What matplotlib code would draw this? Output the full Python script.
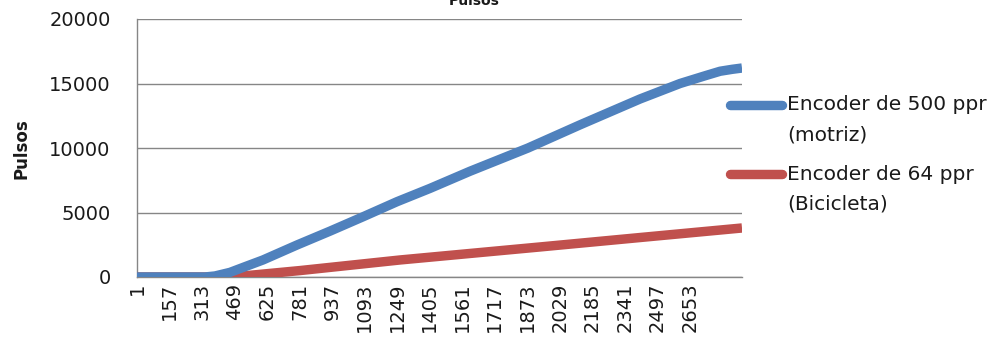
import matplotlib
matplotlib.use("Agg")
import matplotlib.pyplot as plt
from matplotlib.lines import Line2D

# Sample number (x) and accumulated pulses (y) for each encoder
motriz_muestra = [1, 327, 375, 447, 519, 605, 768, 927, 1085, 1248, 1406, 1598,
                  1876, 2126, 2413, 2605, 2725, 2797, 2855, 2902]
motriz_pulsos = [0, 0, 80, 360, 800, 1320, 2480, 3560, 4670, 5840, 6870, 8200,
                 10000, 11800, 13800, 15000, 15600, 15950, 16100, 16200]

bici_muestra = [1, 457, 783, 1262, 1934, 2413, 2902]
bici_pulsos = [0, 0, 500, 1320, 2330, 3060, 3800]

# Category labels shown on the horizontal axis
etiquetas_x = ["1", "157", "313", "469", "625", "781", "937", "1093", "1249",
               "1405", "1561", "1717", "1873", "2029", "2185", "2341", "2497",
               "2653"]
posiciones_x = [int(e) for e in etiquetas_x]

serie_motriz = "Encoder de 500 ppr\n(motriz)"
serie_bici = "Encoder de 64 ppr\n(Bicicleta)"

AZUL = "#4F81BD"
ROJO = "#C0504D"
GRIS = "#868686"
TEXTO = "#1a1a1a"
GROSOR = 6.8

W, H = 1002, 341
fig = plt.figure(figsize=(W / 100, H / 100), dpi=100)
fig.patch.set_facecolor("white")

left, right, top, bottom = 137, 742, 19, 277
ax = fig.add_axes([left / W, 1 - bottom / H, (right - left) / W, (bottom - top) / H])

ax.plot(bici_muestra, bici_pulsos, color=ROJO, lw=GROSOR, solid_capstyle="butt",
        solid_joinstyle="round", zorder=3)
ax.plot(motriz_muestra, motriz_pulsos, color=AZUL, lw=GROSOR, solid_capstyle="butt",
        solid_joinstyle="round", zorder=4)

ax.set_xlim(1, 2902)
ax.set_ylim(0, 20000)
ax.set_yticks([0, 5000, 10000, 15000, 20000])
ax.set_yticklabels(["0", "5000", "10000", "15000", "20000"])
ax.set_xticks(posiciones_x)
ax.set_xticklabels(etiquetas_x, rotation=90)

ax.tick_params(axis="y", length=0, pad=19, labelsize=14, labelcolor=TEXTO)
ax.tick_params(axis="x", length=0, pad=4, labelsize=14, labelcolor=TEXTO)
for lab in ax.get_xticklabels():
    lab.set_verticalalignment("top")

ax.yaxis.grid(True, color=GRIS, lw=1.0)
ax.xaxis.grid(False)
ax.set_axisbelow(True)
for s in ("top", "right"):
    ax.spines[s].set_visible(False)
for s in ("left", "bottom"):
    ax.spines[s].set_color(GRIS)
    ax.spines[s].set_linewidth(1.0)

# Vertical axis title
fig.text(22 / W, 1 - 149 / H, "Pulsos", rotation=90, fontsize=12,
         fontweight="bold", ha="center", va="center", color=TEXTO)

# Chart title (sits above the top edge of the canvas)
fig.text(474 / W, 1 - 5 / H, "Pulsos", fontsize=10, fontweight="bold",
         ha="center", va="baseline", color=TEXTO)

# Legend drawn at the right of the plot
def entrada(y_px, color, texto):
    fig.add_artist(Line2D([730 / W, 782 / W], [1 - y_px / H, 1 - y_px / H],
                          transform=fig.transFigure, color=color, lw=GROSOR,
                          solid_capstyle="round"))
    lineas = texto.split("\n")
    for k, t in enumerate(lineas):
        fig.text(787 / W, 1 - (y_px + k * 30) / H, t, fontsize=14.5,
                 ha="left", va="center", color=TEXTO)

entrada(105, AZUL, serie_motriz)
entrada(174, ROJO, serie_bici)

fig.savefig("out.png", dpi=100, facecolor="white")
